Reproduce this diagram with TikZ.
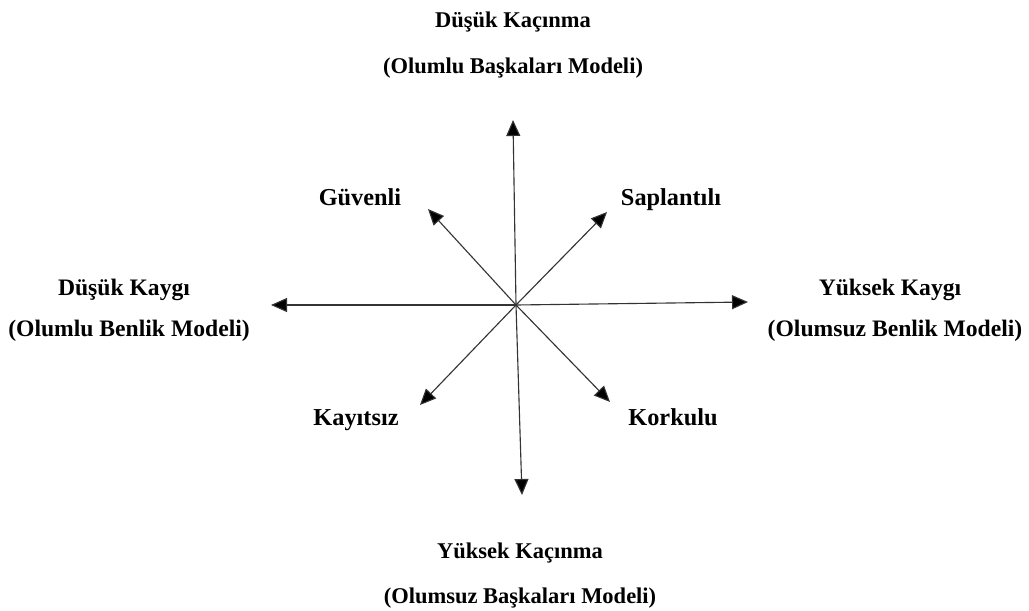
\documentclass[tikz,border=0pt]{standalone}
\usepackage{fontspec}
\setmainfont{Liberation Serif}
\usetikzlibrary{arrows.meta}
\begin{document}
\begin{tikzpicture}[>={Triangle[length=4mm,width=3.5mm]},
  lbl/.style={font=\bfseries\fontsize{16}{18}\selectfont,text height=2.3ex,text depth=0.6ex},
  slbl/.style={lbl,font=\bfseries\fontsize{16.8}{19}\selectfont},
  dlbl/.style={lbl,font=\bfseries\fontsize{17.3}{19}\selectfont},
  axis/.style={->,line width=0.8pt,draw=black!80,-{Triangle[length=4mm,width=3.5mm,fill=black]}}]
	  \useasboundingbox (0,0) rectangle (25.725,-15.275);
	  % axes
	  \coordinate (o) at (12.9,-7.625);
	  \coordinate (up) at (12.825,-3.0);
	  \coordinate (down) at (13.05,-12.375);
	  \coordinate (left) at (6.775,-7.625);
	  \coordinate (right) at (18.7,-7.55);
	  \coordinate (nw) at (10.7,-5.225);
	  \coordinate (ne) at (15.175,-5.3);
	  \coordinate (sw) at (10.5,-10.125);
	  \coordinate (se) at (15.25,-10.05);
	  \draw[axis] (o) -- (up);
	  \draw[axis] (o) -- (down);
	  \draw[axis] (o) -- (left);
	  \draw[axis] (o) -- (right);
	  \draw[axis] (o) -- (nw);
	  \draw[axis] (o) -- (ne);
	  \draw[axis] (o) -- (sw);
	  \draw[axis] (o) -- (se);
	  % labels
	  \node[lbl] (top1) at (12.825,-0.55) {Düşük Kaçınma};
	  \node[lbl] (top2) at (12.825,-1.7) {(Olumlu Başkaları Modeli)};
	  \node[dlbl] (guv) at (9.0,-5.0) {Güvenli};
	  \node[dlbl] (sap) at (16.775,-5.0) {Saplantılı};
	  \node[slbl] (lft1) at (3.1,-7.25) {Düşük Kaygı};
	  \node[slbl] (lft2) at (3.225,-8.275) {(Olumlu Benlik Modeli)};
	  \node[slbl] (rgt1) at (22.25,-7.25) {Yüksek Kaygı};
	  \node[slbl] (rgt2) at (22.375,-8.275) {(Olumsuz Benlik Modeli)};
	  \node[dlbl] (kay) at (8.9,-10.5) {Kayıtsız};
	  \node[dlbl] (kor) at (16.825,-10.5) {Korkulu};
	  \node[lbl] (bot1) at (13.0,-13.825) {Yüksek Kaçınma};
	  \node[lbl] (bot2) at (13.0,-14.95) {(Olumsuz Başkaları Modeli)};
	\end{tikzpicture}
\end{document}
